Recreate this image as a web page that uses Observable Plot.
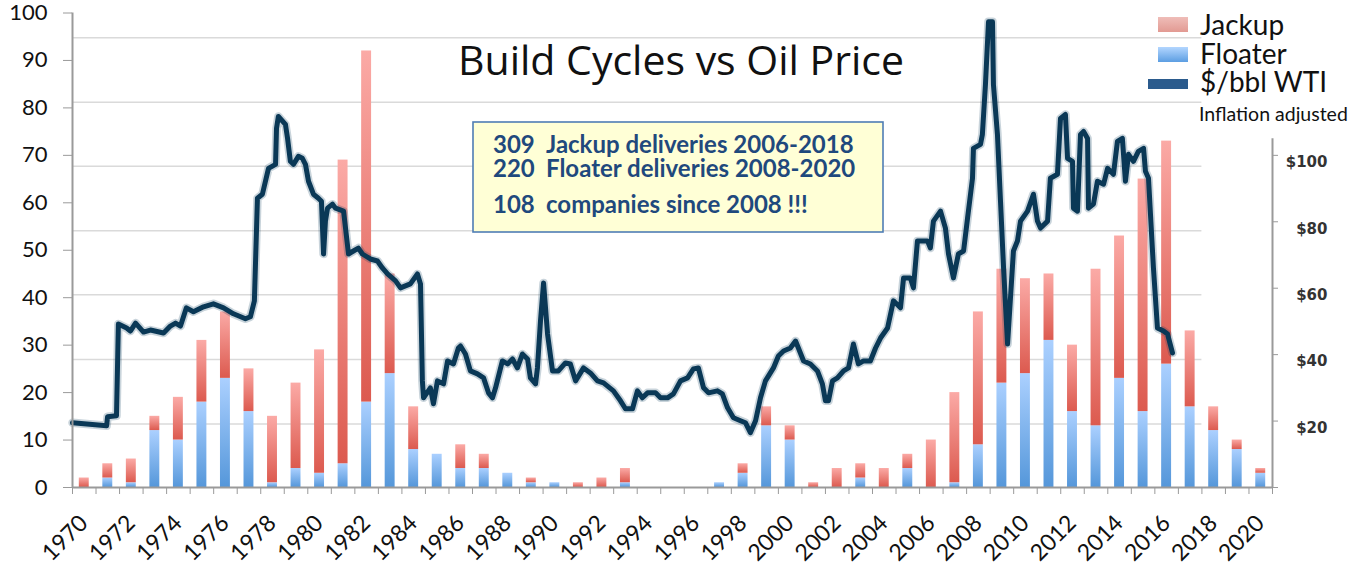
<!DOCTYPE html>
<html><head><meta charset="utf-8">
<script src="https://cdn.jsdelivr.net/npm/d3@7"></script>
<script src="https://cdn.jsdelivr.net/npm/@observablehq/plot@0.6"></script>
<style>
html,body{margin:0;padding:0;background:#fff;overflow:hidden}
#wrap{position:relative;width:1363px;height:565px}
#wrap > svg{position:absolute;left:0;top:0}
</style></head><body><div id="wrap"></div>
<script>
// ---- data ----
const years = [1970,1971,1972,1973,1974,1975,1976,1977,1978,1979,1980,1981,1982,1983,1984,1985,1986,1987,1988,1989,1990,1991,1992,1993,1994,1995,1996,1997,1998,1999,2000,2001,2002,2003,2004,2005,2006,2007,2008,2009,2010,2011,2012,2013,2014,2015,2016,2017,2018,2019,2020];
const floater = [0,2,1,12,10,18,23,16,1,4,3,5,18,24,8,7,4,4,3,1,1,0,0,1,0,0,0,1,3,13,10,0,0,2,0,4,0,1,9,22,24,31,16,13,23,16,26,17,12,8,3];
const jackup  = [2,3,5,3,9,13,14,9,14,18,26,64,74,21,9,0,5,3,0,1,0,1,2,3,0,0,0,0,2,4,3,1,4,3,4,3,10,19,28,24,20,14,14,33,30,49,47,16,5,2,1];
// WTI $/bbl (inflation adjusted), [position on the year axis, $]
const oilPrice = [[1970.00,19.5],[1971.45,18.6],[1971.49,21.3],[1971.87,21.6],[1971.95,49.2],[1972.30,48.0],[1972.46,47.1],[1972.68,49.5],[1973.02,46.8],[1973.31,47.4],[1973.87,46.5],[1974.16,48.6],[1974.38,49.5],[1974.59,48.6],[1974.84,54.1],[1975.14,52.9],[1975.57,54.4],[1975.99,55.3],[1976.42,54.1],[1976.84,52.3],[1977.35,50.8],[1977.56,51.4],[1977.73,56.2],[1977.86,87.1],[1978.07,88.3],[1978.33,96.1],[1978.63,97.3],[1978.67,108.1],[1978.75,111.7],[1979.05,109.3],[1979.14,105.1],[1979.26,98.2],[1979.39,97.3],[1979.60,99.7],[1979.77,99.1],[1979.90,97.3],[1980.03,92.2],[1980.24,88.3],[1980.45,87.1],[1980.58,86.2],[1980.67,70.3],[1980.75,80.2],[1980.84,84.1],[1981.05,85.3],[1981.18,84.1],[1981.52,83.2],[1981.73,70.3],[1981.94,71.2],[1982.15,72.1],[1982.32,70.3],[1982.66,68.8],[1982.96,68.2],[1983.17,66.1],[1983.39,64.3],[1983.73,62.2],[1983.94,60.1],[1984.36,61.3],[1984.66,64.3],[1984.79,61.3],[1984.87,32.1],[1984.92,27.0],[1985.21,30.0],[1985.34,25.2],[1985.51,32.1],[1985.77,31.2],[1985.94,38.1],[1986.19,37.2],[1986.40,42.0],[1986.49,42.6],[1986.70,40.2],[1986.91,35.1],[1987.21,34.2],[1987.47,33.0],[1987.68,28.5],[1987.85,27.0],[1987.98,30.0],[1988.27,38.1],[1988.49,37.2],[1988.70,38.7],[1988.91,36.0],[1989.12,40.2],[1989.34,38.7],[1989.46,33.0],[1989.68,31.2],[1989.76,36.0],[1989.89,50.2],[1990.02,61.6],[1990.19,46.2],[1990.40,35.1],[1990.65,35.1],[1990.95,37.5],[1991.16,37.2],[1991.38,32.1],[1991.72,36.0],[1992.01,34.5],[1992.31,32.1],[1992.57,31.5],[1992.99,29.1],[1993.29,26.1],[1993.50,23.7],[1993.80,23.7],[1994.01,29.1],[1994.22,27.0],[1994.44,28.5],[1994.78,28.5],[1994.99,27.0],[1995.29,27.0],[1995.54,28.2],[1995.84,32.1],[1996.14,33.0],[1996.39,35.7],[1996.60,36.0],[1996.82,30.0],[1997.03,28.5],[1997.41,29.1],[1997.62,28.2],[1997.84,24.0],[1998.09,21.0],[1998.39,20.1],[1998.60,19.5],[1998.81,16.5],[1999.03,20.1],[1999.24,27.0],[1999.45,32.1],[1999.79,36.0],[2000.00,39.6],[2000.22,41.1],[2000.51,42.0],[2000.73,44.1],[2000.85,42.0],[2001.07,38.1],[2001.36,37.2],[2001.66,35.1],[2001.87,31.2],[2002.00,26.1],[2002.13,26.1],[2002.30,32.1],[2002.51,33.0],[2002.77,35.1],[2002.98,36.0],[2003.19,43.2],[2003.40,37.2],[2003.62,38.1],[2003.91,38.1],[2004.13,42.0],[2004.34,45.0],[2004.64,48.0],[2004.89,56.2],[2005.19,54.1],[2005.32,63.1],[2005.61,63.1],[2005.74,60.1],[2005.91,74.2],[2006.34,74.2],[2006.46,72.1],[2006.59,80.2],[2006.89,83.2],[2007.10,78.1],[2007.23,70.3],[2007.44,63.1],[2007.65,70.3],[2007.87,71.2],[2008.04,81.1],[2008.25,93.1],[2008.29,102.1],[2008.59,103.3],[2008.67,106.3],[2008.80,121.3],[2008.93,140.2],[2009.10,140.2],[2009.14,121.3],[2009.31,106.3],[2009.44,86.2],[2009.57,66.1],[2009.74,43.2],[2009.99,71.2],[2010.16,74.2],[2010.29,80.2],[2010.59,83.2],[2010.84,88.3],[2011.01,80.2],[2011.14,78.1],[2011.44,80.2],[2011.56,93.1],[2011.86,94.3],[2011.99,111.1],[2012.20,112.3],[2012.29,99.1],[2012.50,98.2],[2012.54,84.1],[2012.71,83.2],[2012.84,106.3],[2012.97,107.2],[2013.14,105.1],[2013.18,84.1],[2013.39,85.3],[2013.56,92.2],[2013.82,91.3],[2013.99,96.1],[2014.24,94.3],[2014.41,104.2],[2014.62,105.1],[2014.75,92.2],[2014.88,100.3],[2015.09,98.2],[2015.30,101.2],[2015.52,102.1],[2015.60,95.2],[2015.73,93.1],[2015.94,66.1],[2016.11,48.0],[2016.37,47.1],[2016.54,46.2],[2016.75,40.5]];
const leftTicks = [0,10,20,30,40,50,60,70,80,90,100];
const rightTicks = [0,20,40,60,80,100];
const rightLabels = ["$20","$40","$60","$80","$100"];
const xLabelYears = ["1970","1972","1974","1976","1978","1980","1982","1984","1986","1988","1990","1992","1994","1996","1998","2000","2002","2004","2006","2008","2010","2012","2014","2016","2018","2020"];
const gridLevels = [13.4,27.0,40.6,54.1,67.7,81.2,94.8];
const title = "Build Cycles vs Oil Price";
const legendItems = ["Jackup","Floater","$/bbl WTI"];
const legendNote = "Inflation adjusted";
const noteNumbers = ["309","220","108"];
const noteTexts = ["Jackup deliveries 2006-2018","Floater deliveries 2008-2020","companies since 2008 !!!"];

// ---- build ----
const K = 0.7; // left-axis units per $ on the right axis
const rows = years.map((year,i)=>({year, floater:floater[i], jackup:jackup[i]}));
const oil = oilPrice.map(([t,usd])=>({t,usd}));
const boundaries = years.concat([years[years.length-1]+1]);
const inset = 6.8;

const plot = Plot.plot({
  width:1363, height:565,
  marginLeft:72, marginRight:91, marginTop:12.5, marginBottom:78,
  x:{type:"linear", domain:[1970,2021], label:null},
  y:{domain:[0,100], label:null},
  style:{fontFamily:"Lato, sans-serif", background:"transparent", overflow:"visible"},
  marks:[
    Plot.ruleY(gridLevels, {x1:1970, x2:2018, stroke:"#dadada", strokeWidth:1.5}),
    Plot.rect(rows.filter(d=>d.floater>0), {x1:"year", x2:d=>d.year+1, y1:0, y2:"floater", insetLeft:inset, insetRight:inset, fill:"url(#gFloater)"}),
    Plot.rect(rows.filter(d=>d.jackup>0), {x1:"year", x2:d=>d.year+1, y1:"floater", y2:d=>d.floater+d.jackup, insetLeft:inset, insetRight:inset, fill:"url(#gJackup)"}),
    Plot.line(oil, {x:"t", y:d=>d.usd*K, stroke:"#0b3a5a", strokeWidth:8.5, strokeOpacity:0.22, strokeLinejoin:"round"}),
    Plot.line(oil, {x:"t", y:d=>d.usd*K, stroke:"#0a3856", strokeWidth:5, strokeLinejoin:"round"}),
    // left axis
    Plot.ruleX([1970], {stroke:"#9a9a9a", strokeWidth:2}),
    Plot.axisY({ticks:leftTicks, tickSize:9, tickPadding:16, fontSize:22, stroke:"#9a9a9a", color:"#111", label:null}),
    // bottom axis
    Plot.ruleY([0], {stroke:"#9a9a9a", strokeWidth:2}),
    Plot.axisX({ticks:boundaries, tickSize:7, tickFormat:()=>"", stroke:"#9a9a9a", label:null}),
    Plot.text(xLabelYears, {x:d=>+d+0.5, text:d=>d, frameAnchor:"bottom", dx:5, dy:37, rotate:-45, textAnchor:"end", lineAnchor:"bottom", fontSize:23, fill:"#111"}),
    // right axis
    Plot.ruleX([2021], {y1:0, y2:105*K, stroke:"#9a9a9a", strokeWidth:2}),
    Plot.axisY({anchor:"right", ticks:rightTicks.map(v=>v*K), tickSize:5, tickFormat:()=>"", stroke:"#9a9a9a", label:null}),
    Plot.text(rightLabels, {y:(d,i)=>rightTicks[i+1]*K, frameAnchor:"right", dx:55, dy:7, textAnchor:"end", fontFamily:"DejaVu Sans, sans-serif", fontWeight:"bold", fontSize:15, fill:"#333"})
  ]
});

const svg = d3.select(plot);
const defs = svg.insert("defs", ":first-child");
function grad(sel, id, top, bottom){
  const g = sel.append("linearGradient").attr("id", id).attr("x1",0).attr("y1",0).attr("x2",0).attr("y2",1);
  g.append("stop").attr("offset","0%").attr("stop-color",top);
  g.append("stop").attr("offset","100%").attr("stop-color",bottom);
}
grad(defs, "gFloater", "#abd0ff", "#5597da");
grad(defs, "gJackup", "#fbaaa6", "#dc5a4f");

const wrap = document.getElementById("wrap");
wrap.appendChild(plot);

// ---- overlay: title, legend, annotation ----
const ov = d3.select(wrap).append("svg").attr("width",1363).attr("height",565)
  .style("font-family","Lato, sans-serif").style("pointer-events","none");
const od = ov.append("defs");
grad(od, "oF", "#b3d6ff", "#5c9ee2");
grad(od, "oJ", "#efbdb8", "#e29a93");

ov.append("text").attr("x",681).attr("y",75).attr("text-anchor","middle")
  .attr("font-family","'Open Sans', sans-serif").attr("font-size",41).attr("fill","#111").text(title);

// legend
ov.append("rect").attr("x",1158).attr("y",17).attr("width",30).attr("height",15).attr("fill","url(#oJ)");
ov.append("rect").attr("x",1158).attr("y",47).attr("width",30).attr("height",15).attr("fill","url(#oF)");
ov.append("rect").attr("x",1148).attr("y",79).attr("width",40).attr("height",10).attr("fill","#2b5b8d");
[35,64,92].forEach((yb,i)=>{
  ov.append("text").attr("x",1200).attr("y",yb).attr("font-size",28).attr("fill","#111").text(legendItems[i]);
});
ov.append("text").attr("x",1199).attr("y",121).attr("font-size",19.5).attr("fill","#111").text(legendNote);

// annotation box
ov.append("rect").attr("x",473).attr("y",122).attr("width",410).attr("height",110)
  .attr("fill","#ffffd6").attr("stroke","#4f7db4").attr("stroke-width",1.6);
[153,177,213].forEach((yb,i)=>{
  ov.append("text").attr("x",493).attr("y",yb).attr("font-size",24).attr("font-weight","bold").attr("fill","#1f497d").text(noteNumbers[i]);
  ov.append("text").attr("x",546).attr("y",yb).attr("font-size",24).attr("font-weight","bold").attr("fill","#1f497d").text(noteTexts[i]);
});
</script>
</body></html>
